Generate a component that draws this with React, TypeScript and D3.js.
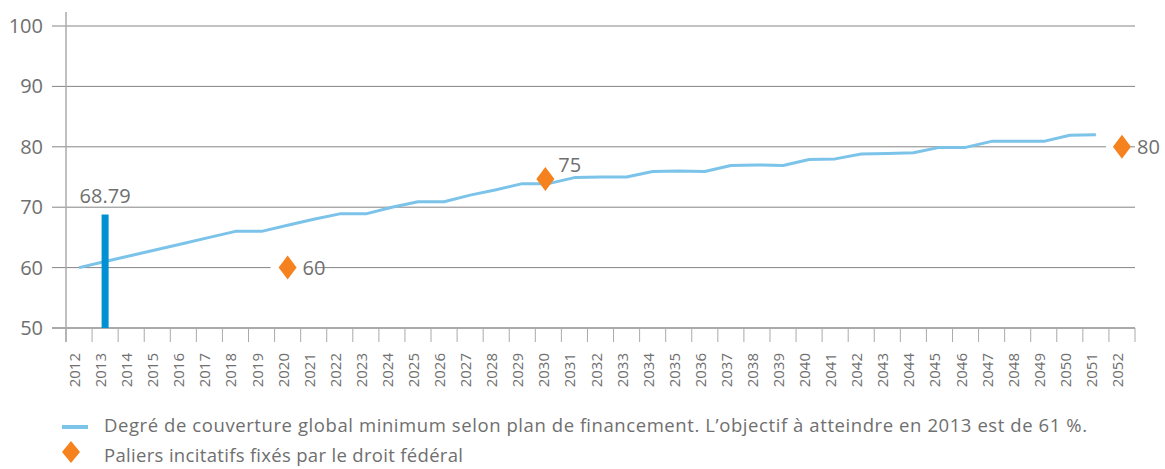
import React from "react";
import * as d3 from "d3";

const years: number[] = d3.range(2012, 2053);
const lineYears: number[] = d3.range(2012, 2052);
const lineValues: number[] = [
  60, 61, 62, 63, 64, 65, 66, 66, 67, 68,
  68.9, 68.9, 70, 70.9, 70.9, 72, 72.9, 73.9, 73.9, 74.9,
  75, 75, 75.9, 76, 75.9, 76.9, 77, 76.9, 77.9, 78,
  78.8, 78.9, 79, 79.9, 79.9, 80.9, 80.9, 80.9, 81.9, 82,
];
const barYear = 2013;
const barValue = 68.79;
const barLabel = "68.79";
const milestoneYears: number[] = [2020, 2030, 2052];
const milestoneValues: number[] = [60, 75, 80];
const milestoneLabels: string[] = ["60", "75", "80"];
const yTicks: number[] = [50, 60, 70, 80, 90, 100];
const legendLine = "Degré de couverture global minimum selon plan de financement. L’objectif à atteindre en 2013 est de 61 %.";
const legendDiamond = "Paliers incitatifs fixés par le droit fédéral";

const FONT = "'Open Sans', 'Noto Sans', sans-serif";
const TXT = "#6f6f6f";
const LINE_BLUE = "#7cc3e9";
const BAR_BLUE = "#0090d3";
const ORANGE = "#f5821f";

function diamond(cx: number, cy: number, w = 18, h = 24) {
  return `M${cx},${cy - h / 2}L${cx + w / 2},${cy}L${cx},${cy + h / 2}L${cx - w / 2},${cy}Z`;
}

export default function App() {
  const W = 1165, H = 469;
  const x = d3.scaleBand<number>().domain(years).range([66, 1135]).padding(0);
  const y = d3.scaleLinear().domain([50, 100]).range([328, 26]);
  const cx = (yr: number) => (x(yr) as number) + x.bandwidth() / 2;

  const line = d3.line<number>()
    .x((_, i) => cx(lineYears[i]))
    .y((d) => y(d));

  // label placements relative to the milestone marker
  const labelPos = [
    { mdx: 0, mdy: 0, dx: 15, dy: 7, bg: [-17, 45] },
    { mdx: -3, mdy: 2, dx: 13, dy: -7, bg: null },
    { mdx: 0, mdy: 0, dx: 15, dy: 7, bg: [-16, 14] },
  ];

  return (
    <svg width={W} height={H} style={{ display: "block", position: "absolute", left: 0, top: 0 }} fontFamily={FONT}>
      {/* gridlines */}
      {yTicks.filter((t) => t > 50).map((t) => (
        <line key={t} x1={52} x2={1135} y1={y(t)} y2={y(t)} stroke="#858585" strokeWidth={1} />
      ))}
      {/* x axis */}
      <line x1={52} x2={1135} y1={y(50)} y2={y(50)} stroke="#aaaaaa" strokeWidth={2} />
      {years.concat([2053]).map((yr, i) => {
        const xx = i < years.length ? (x(yr) as number) : 1135;
        return <line key={"t" + yr} x1={xx} x2={xx} y1={y(50)} y2={y(50) + 14} stroke="#aaaaaa" strokeWidth={1} />;
      })}
      {/* y axis */}
      <line x1={66} x2={66} y1={12} y2={y(50) + 14} stroke="#aaaaaa" strokeWidth={1.5} />
      {/* y tick labels */}
      {yTicks.map((t) => (
        <text key={"yl" + t} x={43} y={y(t) + 7} textAnchor="end" fontSize={20} fill={TXT}>{t}</text>
      ))}
      {/* x tick labels */}
      {years.map((yr) => (
        <text key={"xl" + yr} transform={`translate(${cx(yr) + 1},${y(50) + 25}) rotate(-90)`} textAnchor="end" fontSize={15} fill={TXT}>
          {yr}
        </text>
      ))}
      {/* white backgrounds behind milestones */}
      {milestoneYears.map((yr, i) => {
        const bg = labelPos[i].bg;
        if (!bg) return null;
        return <rect key={"bg" + yr} x={cx(yr) + bg[0]} y={y(milestoneValues[i]) - 4} width={bg[1]} height={8} fill="#fff" />;
      })}
      {/* line */}
      <path d={line(lineValues) || ""} fill="none" stroke={LINE_BLUE} strokeWidth={3} strokeLinejoin="round" />
      {/* bar */}
      <rect x={cx(barYear) - 3.5} y={y(barValue)} width={7} height={y(50) - y(barValue)} fill={BAR_BLUE} />
      <text x={cx(barYear)} y={y(barValue) - 12} textAnchor="middle" fontSize={20} fill={TXT}>{barLabel}</text>
      {/* milestones */}
      {milestoneYears.map((yr, i) => {
        const p = labelPos[i];
        const mx = cx(yr) + p.mdx;
        const my = y(milestoneValues[i]) + p.mdy;
        return (
          <g key={"m" + yr}>
            <path d={diamond(mx, my)} fill={ORANGE} />
            <text x={mx + p.dx} y={my + p.dy} fontSize={20} fill={TXT}>
              {milestoneLabels[i]}
            </text>
          </g>
        );
      })}
      {/* legend */}
      <line x1={62} x2={88} y1={427} y2={427} stroke={LINE_BLUE} strokeWidth={4} />
      <text x={104} y={432} fontSize={18.5} fill={TXT} textLength={983} lengthAdjust="spacing">{legendLine}</text>
      <path d={diamond(71, 452, 18, 22)} fill={ORANGE} />
      <text x={104} y={462} fontSize={18.5} fill={TXT} textLength={359} lengthAdjust="spacing">{legendDiamond}</text>
    </svg>
  );
}
